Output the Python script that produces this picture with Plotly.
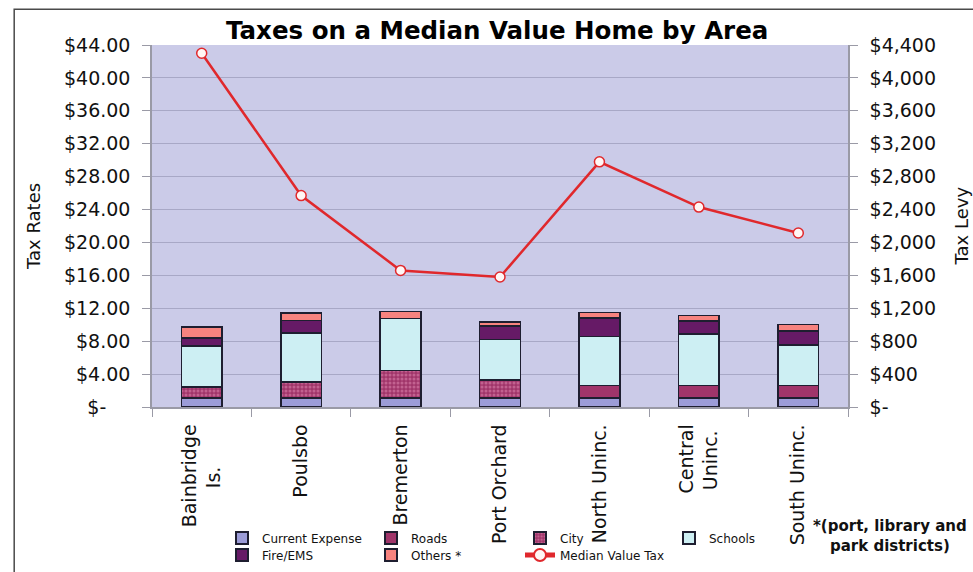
import plotly.graph_objects as go

# Areas along the x axis
categories = ["Bainbridge Is.", "Poulsbo", "Bremerton", "Port Orchard",
              "North Uninc.", "Central Uninc.", "South Uninc."]
NB = "\u00a0"
tick_labels = ["Bainbridge<br>Is." + NB * 7, "Poulsbo", "Bremerton", "Port Orchard",
               "North Uninc.", "Central<br>Uninc." + NB, "South Uninc."]

# Tax rate components ($ per $1,000 assessed value)
current_expense = [1.10, 1.10, 1.10, 1.10, 1.10, 1.10, 1.10]
roads = [0.00, 0.00, 0.00, 0.00, 1.51, 1.51, 1.51]
city = [1.34, 1.91, 3.34, 2.16, 0.00, 0.00, 0.00]
schools = [4.96, 5.98, 6.29, 4.96, 5.98, 6.26, 4.95]
fire_ems = [1.01, 1.55, 0.00, 1.62, 2.23, 1.58, 1.67]
others = [1.31, 0.89, 0.90, 0.49, 0.64, 0.65, 0.82]

# Total tax levy on a median value home ($)
median_value_tax = [4300, 2570, 1660, 1580, 2980, 2430, 2115]

# Axis ticks
rate_ticks = [0, 4, 8, 12, 16, 20, 24, 28, 32, 36, 40, 44]
rate_labels = ["$-" + NB * 4, "$4.00", "$8.00", "$12.00", "$16.00", "$20.00", "$24.00",
               "$28.00", "$32.00", "$36.00", "$40.00", "$44.00"]
levy_ticks = [0, 400, 800, 1200, 1600, 2000, 2400, 2800, 3200, 3600, 4000, 4400]
levy_labels = ["$-", "$400", "$800", "$1,200", "$1,600", "$2,000", "$2,400",
               "$2,800", "$3,200", "$3,600", "$4,000", "$4,400"]

FONT = "DejaVu Sans"
OUTLINE = dict(color="#1e1e30", width=1.5)
W, H = 973, 572

fig = go.Figure()

segments = [
    ("Current Expense", current_expense, "#9C9CD8", None, "legend"),
    ("Roads", roads, "#A0356A", None, "legend"),
    ("City", city, "#A0356A", dict(shape=".", fgcolor="#E48DB6", size=4, solidity=0.45), "legend"),
    ("Schools", schools, "#CDEFF3", None, "legend"),
    ("Fire/EMS", fire_ems, "#661A66", None, "legend2"),
    ("Others *", others, "#F7837F", None, "legend2"),
]
for name, vals, color, pattern, leg in segments:
    marker = dict(color=color, line=OUTLINE)
    if pattern:
        marker["pattern"] = pattern
    fig.add_trace(go.Bar(x=categories, y=vals, name=name, marker=marker,
                         width=0.41, legend=leg))

fig.add_trace(go.Scatter(
    x=categories, y=median_value_tax, yaxis="y2", name="Median Value Tax",
    mode="lines+markers", legend="legend2",
    line=dict(color="#E0282C", width=2.5),
    marker=dict(symbol="circle", size=10, color="#FFF6F4",
                line=dict(color="#E0282C", width=1.5)),
))

axis_grey = "#9a9aa6"
legend_common = dict(orientation="h", xanchor="left", yanchor="middle",
                     xref="container", yref="container", traceorder="normal",
                     entrywidth=104, entrywidthmode="pixels",
                     bgcolor="rgba(0,0,0,0)", font=dict(size=12, family=FONT, color="#111"),
                     itemsizing="constant", tracegroupgap=0)

fig.update_layout(
    width=W, height=H, autosize=False,
    margin=dict(l=152, r=125, t=45, b=165),
    barmode="stack",
    plot_bgcolor="#CBCBE8", paper_bgcolor="white",
    font=dict(family=FONT, color="#111", size=19),
    title=dict(text="<b>Taxes on a Median Value Home by Area</b>",
               x=0.511, xanchor="center", y=0.947, yanchor="middle",
               font=dict(size=24.5, color="black", family=FONT)),
    xaxis=dict(tickmode="array", tickvals=categories, ticktext=tick_labels,
               tickangle=-90, ticks="outside", tickson="boundaries", ticklen=8,
               tickcolor=axis_grey, showline=True, linecolor=axis_grey, linewidth=1.5,
               showgrid=False, automargin=False, tickfont=dict(size=19),
               ticklabelstandoff=8),
    yaxis=dict(range=[0, 44], tickmode="array", tickvals=rate_ticks, ticktext=rate_labels,
               ticks="outside", ticklen=8, tickcolor=axis_grey,
               showgrid=True, gridcolor="#A8A8C6", gridwidth=1,
               showline=True, linecolor=axis_grey, linewidth=1.5, zeroline=False,
               automargin=False, tickfont=dict(size=19), ticklabelstandoff=8),
    yaxis2=dict(overlaying="y", side="right", range=[0, 4400], tickmode="array",
                tickvals=levy_ticks, ticktext=levy_labels,
                ticks="outside", ticklen=8, tickcolor=axis_grey,
                showgrid=False, showline=True, linecolor=axis_grey, linewidth=1.5,
                zeroline=False, automargin=False, tickfont=dict(size=19),
                ticklabelstandoff=8),
    legend=dict(x=222 / W, y=1 - 538 / H, **legend_common),
    legend2=dict(x=222 / W, y=1 - 555 / H, **legend_common),
    annotations=[
        dict(text="Tax Rates", xref="paper", yref="paper", x=-0.171, y=0.50,
             xanchor="center", yanchor="middle",
             textangle=-90, showarrow=False, font=dict(size=18)),
        dict(text="Tax Levy", xref="paper", yref="paper", x=1.163, y=0.50,
             xanchor="center", yanchor="middle",
             textangle=-90, showarrow=False, font=dict(size=18)),
        dict(text="<b>*(port, library and<br>park districts)</b>", xref="paper", yref="paper",
             x=1.06, y=-0.356, xanchor="center", yanchor="middle", showarrow=False,
             font=dict(size=15), align="center"),
    ],
    shapes=[dict(type="rect", xref="paper", yref="paper", x0=-0.198, x1=1.19,
                 y0=-0.52, y1=1.099, line=dict(color="#4a4a4a", width=1.5),
                 fillcolor="rgba(0,0,0,0)", layer="below")],
)

fig.write_html("out.html")
